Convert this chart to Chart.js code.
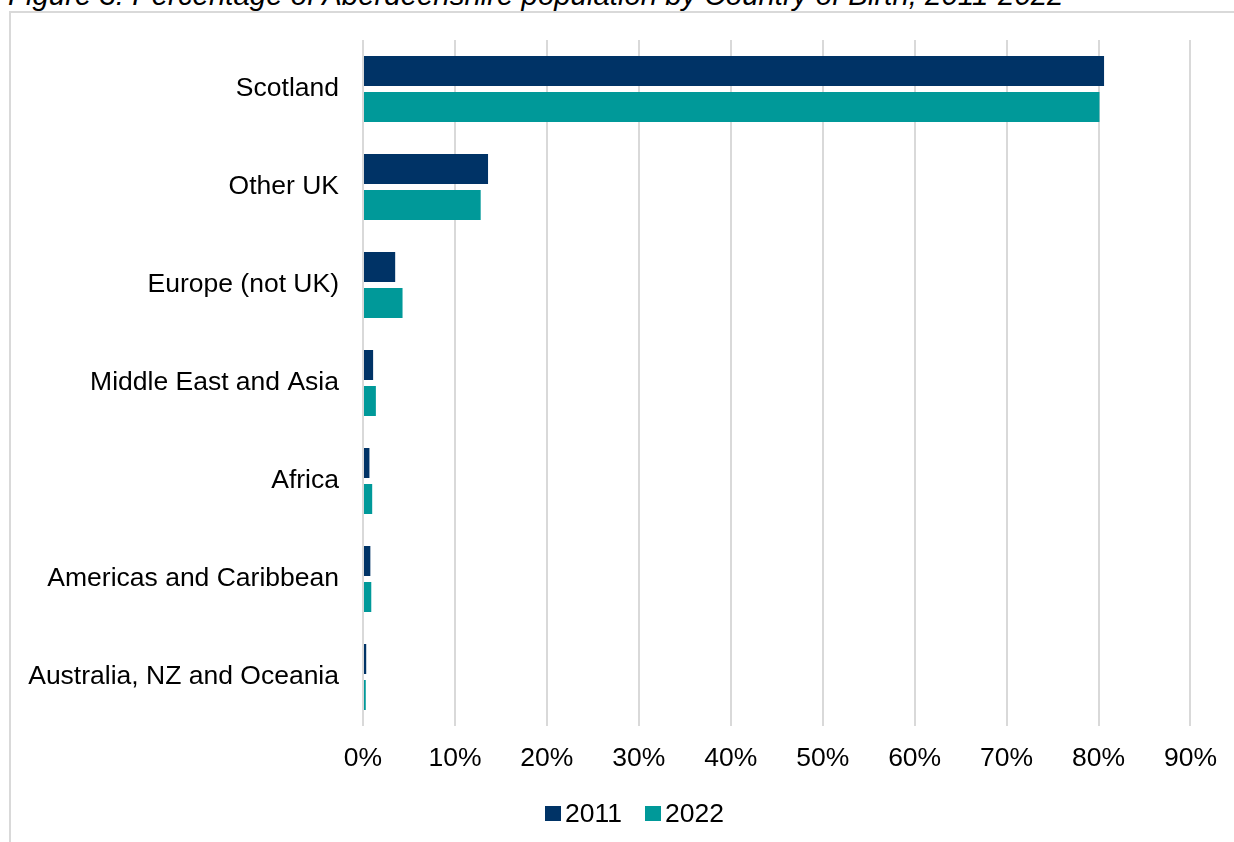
<!DOCTYPE html>
<html>
<head>
<meta charset="utf-8">
<script src="https://cdn.jsdelivr.net/npm/chart.js@4/dist/chart.umd.min.js"></script>
<style>
    html, body { margin: 0; padding: 0; background: #fff; }
    body { width: 1234px; height: 842px; position: relative; overflow: hidden; font-family: 'Liberation Sans', Arial, sans-serif; }
    .title { position: absolute; left: 8px; top: -20px; line-height: 30px; font-size: 29.4px; font-style: italic; color: #000; white-space: nowrap; }
    .frame { position: absolute; left: 9px; top: 11px; width: 1240px; height: 900px; border-left: 2px solid #d9d9d9; border-top: 2px solid #d9d9d9; }
    .wrap { position: absolute; left: 0; top: 0; width: 1234px; height: 842px; }
    .legend { position: absolute; left: 545px; top: 798px; height: 30px; line-height: 30px; font-size: 26.5px; color: #000; display: flex; align-items: center; }
    .legend .box { width: 16px; height: 15px; margin-right: 4px; }
    .legend .item { display: flex; align-items: center; margin-right: 23px; }
</style>
</head>
<body>
<div class="title">Figure 3: Percentage of Aberdeenshire population by Country of Birth, 2011-2022</div>
<div class="frame"></div>
<div class="wrap"><canvas id="birthChart" width="1234" height="842"></canvas></div>
<div class="legend" id="legend"></div>
<script>
// categories and values (percent)
const regions = ['Scotland', 'Other UK', 'Europe (not UK)', 'Middle East and Asia', 'Africa', 'Americas and Caribbean', 'Australia, NZ and Oceania'];
const pct2011 = [80.6, 13.6, 3.5, 1.1, 0.7, 0.8, 0.35];
const pct2022 = [80.1, 12.8, 4.3, 1.4, 1.0, 0.9, 0.3];
const seriesNames = ['2011', '2022'];
const seriesColors = ['#003366', '#009999'];

const FONT = "'Liberation Sans', Arial, sans-serif";

new Chart(document.getElementById('birthChart').getContext('2d'), {
    type: 'bar',
    data: {
        labels: regions,
        datasets: [
            { label: seriesNames[0], data: pct2011, backgroundColor: seriesColors[0], categoryPercentage: 0.735, barPercentage: 0.833 },
            { label: seriesNames[1], data: pct2022, backgroundColor: seriesColors[1], categoryPercentage: 0.735, barPercentage: 0.833 }
        ]
    },
    options: {
        indexAxis: 'y',
        responsive: false,
        animation: false,
        layout: { padding: { top: 40, right: 41.5, left: 0, bottom: 0 } },
        plugins: { legend: { display: false }, tooltip: { enabled: false } },
        scales: {
            x: {
                min: 0, max: 90,
                ticks: { stepSize: 10, padding: 17, color: '#000', font: { family: FONT, size: 26.5 }, callback: v => v + '%', maxRotation: 0 },
                grid: { color: '#d9d9d9', lineWidth: 2, drawTicks: false },
                border: { display: false },
                afterFit: s => { s.height = 116; }
            },
            y: {
                ticks: { padding: 24, color: '#000', font: { family: FONT, size: 26.5 } },
                grid: { display: false, drawTicks: false },
                border: { display: false },
                afterFit: s => { s.width = 363; }
            }
        }
    }
});

// legend drawn as html to match the tight box/text spacing
const legendEl = document.getElementById('legend');
seriesNames.forEach((name, i) => {
    legendEl.innerHTML += `<div class="item"><div class="box" style="background:${seriesColors[i]}"></div><span>${name}</span></div>`;
});
</script>
</body>
</html>
